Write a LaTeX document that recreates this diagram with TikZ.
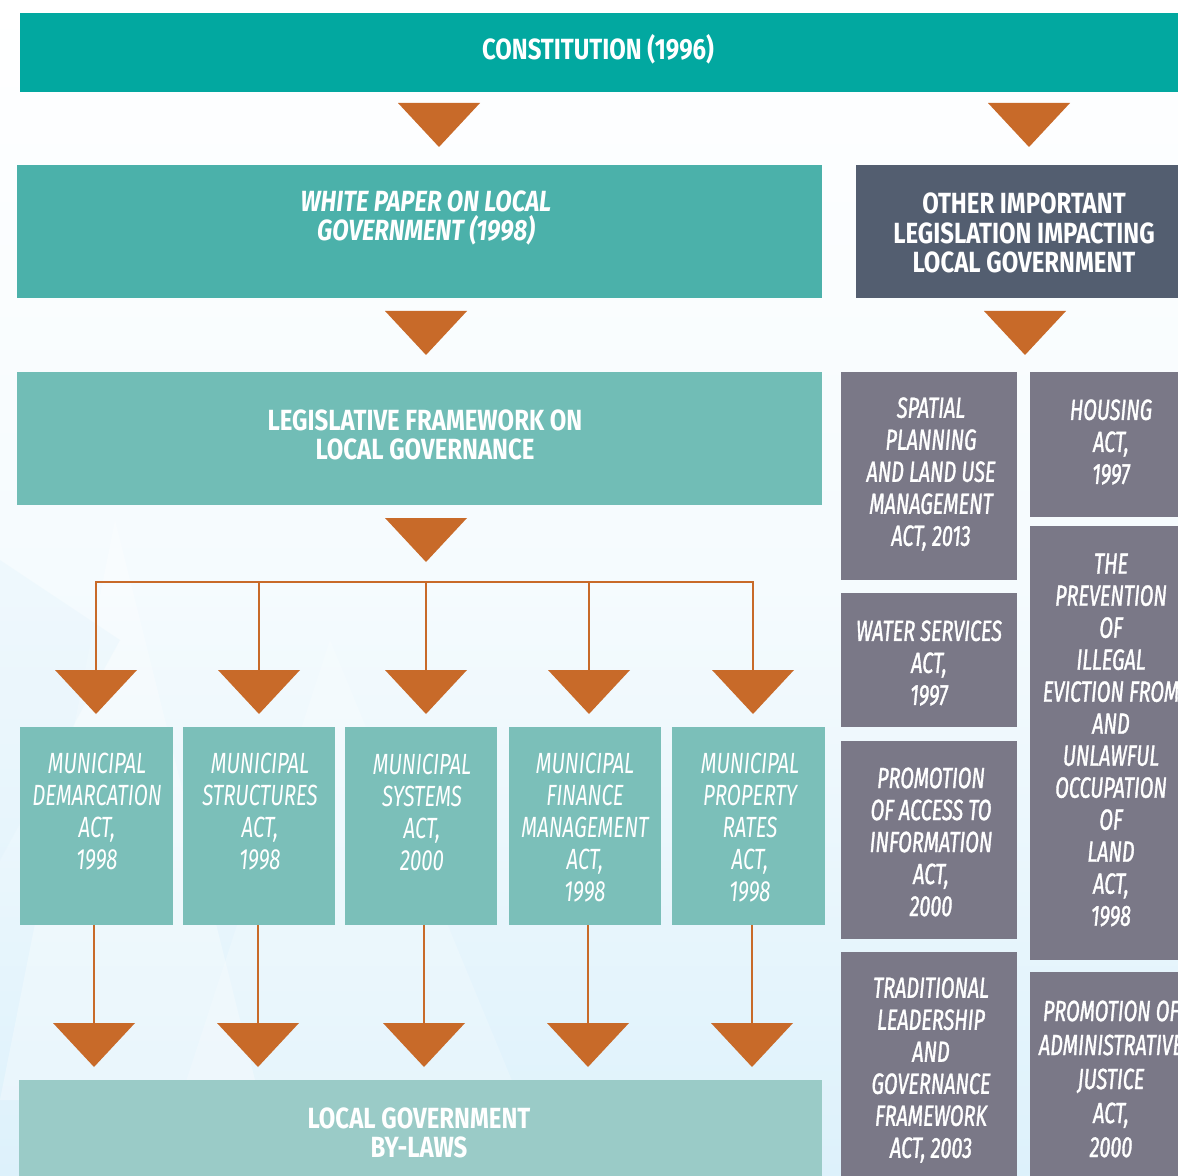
\documentclass[tikz,border=0pt]{standalone}
\usepackage{fontspec}
\newfontfamily\headfont[FakeStretch=0.82]{Fira Sans}
\newfontfamily\actfont[FakeStretch=0.70]{Fira Sans}
\newfontfamily\lawfont[FakeStretch=0.68,FakeBold=1.2]{Fira Sans}
\usetikzlibrary{fit}

\definecolor{bgblue}{HTML}{DDF1FB}
\definecolor{constc}{HTML}{02A8A0}
\definecolor{paperc}{HTML}{4BB1AA}
\definecolor{otherc}{HTML}{535E70}
\definecolor{legisc}{HTML}{71BDB6}
\definecolor{munic}{HTML}{7BBFB9}
\definecolor{bylawc}{HTML}{9ACBC7}
\definecolor{greyc}{HTML}{7A7887}
\definecolor{arrowc}{HTML}{C86A29}

\begin{document}
\begin{tikzpicture}[x=0.5pt,y=-0.5pt,
  box/.style={inner sep=0pt, outer sep=0pt, draw=none},
  head/.style={text=white, align=center, font=\headfont\bfseries\fontsize{14.6}{14.8}\selectfont},
  headit/.style={text=white, align=center, font=\headfont\bfseries\itshape\fontsize{14.6}{14.8}\selectfont},
  act/.style={text=white, align=center, font=\actfont\itshape\fontsize{14.6}{16}\selectfont},
  law/.style={text=white, align=center, font=\lawfont\itshape\fontsize{14.6}{16}\selectfont},
  link/.style={draw=arrowc, line width=1.3pt},
  drop/.pic={\fill[arrowc] (-41,0) -- (41,0) -- (0,44) -- cycle; \coordinate (-top) at (0,0);}
]
\useasboundingbox (0,0) rectangle (1178,1176);
\clip (0,0) rectangle (1178,1176);

% backdrop
\shade[top color=white, bottom color=bgblue, middle color=white!70!bgblue] (0,0) rectangle (1178,1176);
\fill[white, opacity=0.3] (0,1100) -- (115,520) -- (260,1100) -- cycle;
\fill[white, opacity=0.2] (180,1100) -- (330,640) -- (520,1100) -- cycle;
\fill[bgblue, opacity=0.25] (0,860) -- (120,640) -- (0,560) -- cycle;

% top level
\node[box, fill=constc, fit={(20,13) (1190,92)}] (con) {};
\node[head] at (598,49) {CONSTITUTION (1996)};

% second level
\node[box, fill=paperc, fit={(17,165) (822,298)}] (wp) {};
\node[headit] at (426,218) {WHITE PAPER ON LOCAL\\GOVERNMENT (1998)};
\node[box, fill=otherc, fit={(856,165) (1190,298)}] (oth) {};
\node[head] at (1024,233) {OTHER IMPORTANT\\LEGISLATION IMPACTING\\LOCAL GOVERNMENT};

% legislative framework
\node[box, fill=legisc, fit={(17,372) (822,505)}] (lf) {};
\node[head] at (425,435) {LEGISLATIVE FRAMEWORK ON\\LOCAL GOVERNANCE};

% municipal acts
\node[box, fill=munic, fit={(20,727) (173,925)}] (m1) {};
\node[box, fill=munic, fit={(183,727) (335,925)}] (m2) {};
\node[box, fill=munic, fit={(345,727) (497,925)}] (m3) {};
\node[box, fill=munic, fit={(509,727) (661,925)}] (m4) {};
\node[box, fill=munic, fit={(672,727) (825,925)}] (m5) {};
\node[act] at (97,812) {MUNICIPAL\\DEMARCATION\\ACT,\\1998};
\node[act] at (260,812) {MUNICIPAL\\STRUCTURES\\ACT,\\1998};
\node[act] at (422,812) {MUNICIPAL\\SYSTEMS\\ACT,\\2000};
\node[act] at (585,828) {MUNICIPAL\\FINANCE\\MANAGEMENT\\ACT,\\1998};
\node[act] at (750,828) {MUNICIPAL\\PROPERTY\\RATES\\ACT,\\1998};

% by-laws
\node[box, fill=bylawc, fit={(19,1080) (822,1190)}] (bl) {};
\node[head] at (419,1133) {LOCAL GOVERNMENT\\BY-LAWS};

% other legislation
\node[box, fill=greyc, fit={(841,372) (1017,580)}] (sp) {};
\node[box, fill=greyc, fit={(841,593) (1017,727)}] (wa) {};
\node[box, fill=greyc, fit={(841,741) (1017,939)}] (pa) {};
\node[box, fill=greyc, fit={(841,952) (1017,1190)}] (tl) {};
\node[box, fill=greyc, fit={(1030,372) (1190,517)}] (ho) {};
\node[box, fill=greyc, fit={(1030,526) (1190,960)}] (ev) {};
\node[box, fill=greyc, fit={(1030,972) (1190,1190)}] (aj) {};
\node[law] at (931,474) {SPATIAL\\PLANNING\\AND LAND USE\\MANAGEMENT\\ACT, 2013};
\node[law] at (929,663) {WATER SERVICES\\ACT,\\1997};
\node[law] at (931,842) {PROMOTION\\OF ACCESS TO\\INFORMATION\\ACT,\\2000};
\node[law] at (931,1070) {TRADITIONAL\\LEADERSHIP\\AND\\GOVERNANCE\\FRAMEWORK\\ACT, 2003};
\node[law] at (1111,442) {HOUSING\\ACT,\\1997};
\node[law] at (1111,740) {THE\\PREVENTION\\OF\\ILLEGAL\\EVICTION FROM\\AND\\UNLAWFUL\\OCCUPATION\\OF\\LAND\\ACT,\\1998};
\node[law, font=\lawfont\itshape\fontsize{14.6}{17}\selectfont] at (1111,1079) {PROMOTION OF\\ADMINISTRATIVE\\JUSTICE\\ACT,\\2000};

% flow markers
\pic (a1) at (439,103) {drop};
\pic (a2) at (1029,103) {drop};
\pic (a3) at (426,311) {drop};
\pic (a4) at (1025,311) {drop};
\pic (a5) at (426,518) {drop};

\pic (b1) at (96,670) {drop};
\pic (b2) at (259,670) {drop};
\pic (b3) at (426,670) {drop};
\pic (b4) at (589,670) {drop};
\pic (b5) at (753,670) {drop};

\pic (c1) at (94,1023) {drop};
\pic (c2) at (258,1023) {drop};
\pic (c3) at (424,1023) {drop};
\pic (c4) at (588,1023) {drop};
\pic (c5) at (752,1023) {drop};

% distribution bracket
\coordinate (busL) at (96,582);
\coordinate (busR) at (753,582);
\draw[link] (b1-top) -- (busL) -- (busR) -- (b5-top);
\draw[link] (b2-top |- busL) -- (b2-top);
\draw[link] (b3-top |- busL) -- (b3-top);
\draw[link] (b4-top |- busL) -- (b4-top);

% acts to by-laws
\draw[link] (c1-top |- m1.south) -- (c1-top);
\draw[link] (c2-top |- m2.south) -- (c2-top);
\draw[link] (c3-top |- m3.south) -- (c3-top);
\draw[link] (c4-top |- m4.south) -- (c4-top);
\draw[link] (c5-top |- m5.south) -- (c5-top);
\end{tikzpicture}
\end{document}
